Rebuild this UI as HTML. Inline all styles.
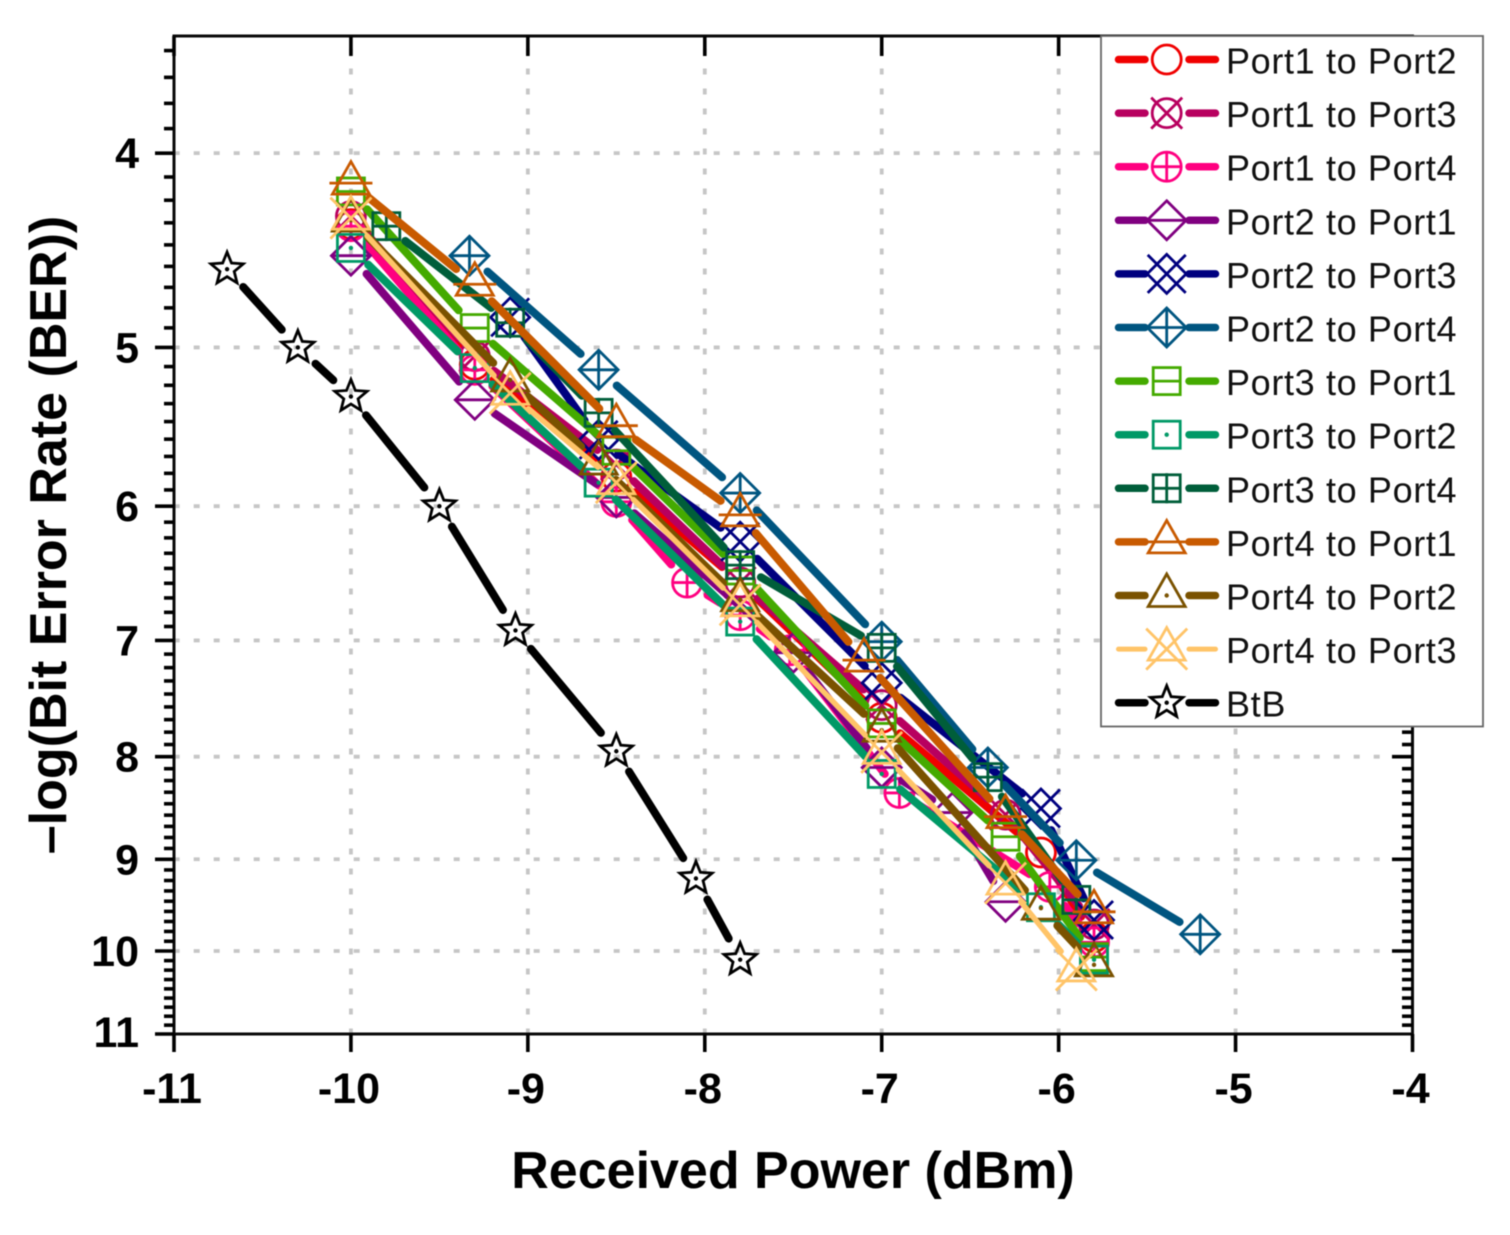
<!DOCTYPE html>
<html lang="en">
<head>
<meta charset="utf-8">
<title>Received Power vs Bit Error Rate</title>
<style>
html,body{margin:0;padding:0;background:#fff;width:1510px;height:1235px;overflow:hidden}
svg{display:block;filter:blur(0.6px)}
text{font-family:"Liberation Sans",Arial,sans-serif;fill:#000}
.tick{font-size:43px;font-weight:700}
.title{font-size:52px;font-weight:700}
.legend-text{font-size:36px;letter-spacing:.65px;fill:#111}
</style>
</head>
<body>
<svg id="chart" xmlns="http://www.w3.org/2000/svg" width="1510" height="1235" viewBox="0 0 1510 1235">
  <g id="grid"></g>
  <g id="marks"></g>
  <g id="axes"></g>
  <text class="title" x="793" y="1188" text-anchor="middle">Received Power (dBm)</text>
  <text class="title" transform="translate(66 535) rotate(-90)" text-anchor="middle">–log(Bit Error Rate (BER))</text>
  <g id="legend"></g>
</svg>
<script>
// ---- chart data ----
const xTicks = [-11, -10, -9, -8, -7, -6, -5, -4];
const yTicks = [4, 5, 6, 7, 8, 9, 10, 11];
const xDomain = [-11, -4];
const yDomain = [3.5, 11];

const port1to2X = [-10, -9.3, -8.5, -7.8, -7, -6.1, -5.8];
const port1to2Y = [4.34, 5.10, 5.80, 6.55, 7.65, 8.93, 9.84];
const port1to3X = [-10, -9.3, -8.5, -7.8, -7, -6.3, -5.8];
const port1to3Y = [4.30, 5.05, 5.72, 6.55, 7.54, 8.55, 9.70];
const port1to4X = [-10, -9.3, -8.5, -8.1, -7.8, -7.52, -6.9, -6.05, -5.8];
const port1to4Y = [4.35, 5.13, 5.97, 6.55, 6.80, 7.08, 8.34, 9.29, 9.90];
const port2to1X = [-10, -9.3, -8.5, -7.5, -7, -6.6, -6.3];
const port2to1Y = [4.50, 5.31, 5.94, 7.10, 8.10, 8.53, 9.45];
const port2to3X = [-9.1, -8.6, -7.8, -7, -6.1, -5.8];
const port2to3Y = [4.83, 5.56, 6.25, 7.35, 8.49, 9.65];
const port2to4X = [-9.33, -8.6, -7.8, -7, -6.4, -5.9, -5.2];
const port2to4Y = [4.50, 5.13, 5.91, 7.01, 8.10, 9.01, 9.81];
const port3to1X = [-10, -9.3, -8.5, -7.8, -7, -6.3, -5.8];
const port3to1Y = [4.18, 4.89, 5.63, 6.46, 7.70, 8.77, 10.07];
const port3to2X = [-10, -9.3, -8.6, -7.8, -7, -6.1, -5.8];
const port3to2Y = [4.46, 5.12, 5.84, 6.85, 8.16, 9.51, 10.10];
const port3to4X = [-9.8, -9.1, -8.6, -7.8, -7, -6.4, -5.9];
const port3to4Y = [4.35, 4.86, 5.39, 6.42, 7.06, 8.19, 9.43];
const port4to1X = [-10, -9.3, -8.5, -7.8, -7.1, -6.3, -5.8];
const port4to1Y = [4.14, 4.65, 5.47, 6.06, 7.16, 8.57, 9.56];
const port4to2X = [-10, -9.1, -8.6, -7.8, -7, -6.1, -5.8];
const port4to2Y = [4.32, 5.19, 5.71, 6.68, 7.76, 9.52, 10.16];
const port4to3X = [-10, -9.1, -8.5, -7.8, -7, -6.3, -5.9];
const port4to3Y = [4.31, 5.27, 5.84, 6.72, 7.96, 9.25, 10.22];
const btbX = [-10.7, -10.3, -10, -9.5, -9.07, -8.5, -8.05, -7.8];
const btbY = [4.57, 5.00, 5.29, 6.00, 6.92, 7.95, 9.20, 10.10];

const seriesNames = ["Port1 to Port2", "Port1 to Port3", "Port1 to Port4", "Port2 to Port1", "Port2 to Port3", "Port2 to Port4", "Port3 to Port1", "Port3 to Port2", "Port3 to Port4", "Port4 to Port1", "Port4 to Port2", "Port4 to Port3", "BtB"];
const seriesX = [port1to2X, port1to3X, port1to4X, port2to1X, port2to3X, port2to4X, port3to1X, port3to2X, port3to4X, port4to1X, port4to2X, port4to3X, btbX];
const seriesY = [port1to2Y, port1to3Y, port1to4Y, port2to1Y, port2to3Y, port2to4Y, port3to1Y, port3to2Y, port3to4Y, port4to1Y, port4to2Y, port4to3Y, btbY];
const seriesColors = ["#f00000", "#b8005f", "#ff0080", "#800080", "#00007f", "#005580", "#44aa00", "#009966", "#005e3a", "#c85a00", "#7a5200", "#ffc468", "#000000"];
const seriesSymbols = ["circle", "circle-x", "circle-plus", "diamond-bar", "diamond-x", "diamond-plus", "square-bar", "square-dot", "square-plus", "triangle-bar", "triangle-dot", "triangle-x", "star"];

// ---- axis functions ----
const plotLeft = 174, plotRight = 1412.5, plotTop = 36, plotBottom = 1034;
const pxPerUnit = (plotRight - plotLeft) / (xDomain[1] - xDomain[0]);
const pxPerDecade = 2005;
function xScale(v) { return plotLeft + (v - xDomain[0]) * pxPerUnit; }
function yScale(v) { return plotBottom - pxPerDecade * Math.log10(yDomain[1] / v); }

const NS = "http://www.w3.org/2000/svg";
function make(tag, parent, props) {
  const el = document.createElementNS(NS, tag);
  for (const k in props) el.setAttribute(k, props[k]);
  parent.appendChild(el);
  return el;
}
function slug(s) { return s.toLowerCase().replace(/\s+/g, "-"); }

// ---- gridlines ----
const gridG = document.getElementById("grid");
const gridStyle = { stroke: "#c6c6c6", "stroke-width": 3.8, "stroke-dasharray": "6 14", fill: "none" };
xTicks.slice(1, -1).forEach(function (t) {
  const l = make("line", gridG, Object.assign({ x1: xScale(t), y1: plotBottom + 0.5, x2: xScale(t), y2: plotTop }, gridStyle));
  
  
});
yTicks.slice(0, -1).forEach(function (t) {
  const l = make("line", gridG, Object.assign({ x1: plotLeft - 0.3, y1: yScale(t), x2: plotRight - 20, y2: yScale(t) }, gridStyle));
  
  
});

// ---- symbols ----
function drawSymbol(parent, kind, cx, cy, color) {
  const g = make("g", parent, { transform: "translate(" + cx + " " + cy + ")", fill: "none", stroke: color, "stroke-width": 2.8, "stroke-linejoin": "miter" });
  const parts = kind.split("-");
  const shape = parts[0], extra = parts[1];
  if (shape === "circle") {
    make("circle", g, { r: 14.5 });
    if (extra === "x") make("path", g, { d: "M-15.5 -15.5L15.5 15.5M15.5 -15.5L-15.5 15.5" });
    if (extra === "plus") make("path", g, { d: "M-14.5 0H14.5M0 -14.5V14.5" });
  } else if (shape === "diamond") {
    make("path", g, { d: "M0 -19.5L19.5 0L0 19.5L-19.5 0Z" });
    if (extra === "bar") make("path", g, { d: "M-19.5 0H19.5" });
    if (extra === "plus") make("path", g, { d: "M-19.5 0H19.5M0 -19.5V19.5" });
    if (extra === "x") make("path", g, { d: "M-19 -19L19 19M19 -19L-19 19" });
  } else if (shape === "square") {
    make("rect", g, { x: -13.5, y: -13.5, width: 27, height: 27 });
    if (extra === "bar") make("path", g, { d: "M-14 0H14" });
    if (extra === "plus") make("path", g, { d: "M-14 0H14M0 -15V15" });
    if (extra === "dot") make("circle", g, { r: 0.8, fill: color });
  } else if (shape === "triangle") {
    make("path", g, { d: "M0 -21.5L18.5 11H-18.5Z" });
    if (extra === "bar") make("path", g, { d: "M-21.5 0H21.5" });
    if (extra === "dot") make("circle", g, { r: 0.8, fill: color });
    if (extra === "x") make("path", g, { d: "M-20.5 -20.5L20.5 20.5M20.5 -20.5L-20.5 20.5" });
  } else if (shape === "star") {
    let d = "";
    for (let i = 0; i < 10; i++) {
      const r = i % 2 ? 7.5 : 17;
      const a = -Math.PI / 2 + i * Math.PI / 5;
      d += (i ? "L" : "M") + (r * Math.cos(a)).toFixed(2) + " " + (r * Math.sin(a)).toFixed(2);
    }
    make("path", g, { d: d + "Z" });
    make("circle", g, { r: 0.8, fill: color });
  }
  return g;
}

// ---- series ----
const marksG = document.getElementById("marks");
const lineGap = 24;
seriesNames.forEach(function (name, s) {
  const sg = make("g", marksG, {});
  
  
  const xs = seriesX[s], ys = seriesY[s];
  for (let i = 0; i < xs.length - 1; i++) {
    const x1 = xScale(xs[i]), y1 = yScale(ys[i]), x2 = xScale(xs[i + 1]), y2 = yScale(ys[i + 1]);
    const len = Math.hypot(x2 - x1, y2 - y1);
    if (len <= 2 * lineGap) continue;
    const ux = (x2 - x1) / len, uy = (y2 - y1) / len;
    const seg = make("line", sg, {
      x1: x1 + ux * lineGap, y1: y1 + uy * lineGap,
      x2: x2 - ux * lineGap, y2: y2 - uy * lineGap,
      stroke: seriesColors[s], "stroke-width": s === 11 ? 5.5 : 8, "stroke-linecap": "round"
    });
    
    
  }
  xs.forEach(function (xv, i) {
    const m = drawSymbol(sg, seriesSymbols[s], xScale(xv), yScale(ys[i]), seriesColors[s]);
    
    
  });
});

// ---- axes ----
const axesG = document.getElementById("axes");
const frame = make("rect", axesG, { x: plotLeft, y: plotTop, width: plotRight - plotLeft, height: plotBottom - plotTop, fill: "none", stroke: "#0a0a0a", "stroke-width": 3 });


const tickStyle = { stroke: "#000", "stroke-width": 3.6 };
xTicks.forEach(function (t) {
  const x = xScale(t);
  const tb = make("line", axesG, Object.assign({ x1: x, y1: plotBottom, x2: x, y2: 1052 }, tickStyle));
  
  
  const tt = make("line", axesG, Object.assign({ x1: x, y1: plotTop, x2: x, y2: 56 }, tickStyle));
  
  
  const lab = make("text", axesG, { class: "tick", x: x - 2, y: 1103, "text-anchor": "middle" });
  lab.textContent = String(t);
  
  
});
yTicks.forEach(function (t) {
  const y = yScale(t);
  const tl = make("line", axesG, Object.assign({ x1: 155, y1: y, x2: plotLeft, y2: y }, tickStyle));
  
  
  if (t < 11) {
    const tr = make("line", axesG, Object.assign({ x1: 1392, y1: y, x2: plotRight, y2: y }, tickStyle));
    
    
  }
  const lab = make("text", axesG, { class: "tick", x: 139, y: y + (t === 11 ? 13 : 15), "text-anchor": "end" });
  lab.textContent = String(t);
  
  
});
// minor ticks: eight between major values
const minorStarts = [3, 4, 5, 6, 7, 8, 9, 10];
minorStarts.forEach(function (b) {
  for (let i = 1; i <= 8; i++) {
    const v = b + i / 9;
    if (v <= yDomain[0]) continue;
    const y = yScale(v);
    const ml = make("line", axesG, Object.assign({ x1: 164, y1: y, x2: plotLeft, y2: y }, tickStyle));
    
    
    const mr = make("line", axesG, Object.assign({ x1: 1402, y1: y, x2: plotRight, y2: y }, tickStyle));
    
    
  }
});

// ---- legend ----
const legendG = document.getElementById("legend");
const legendBox = make("rect", legendG, { x: 1101, y: 36, width: 382, height: 690.5, fill: "#fff", stroke: "#666", "stroke-width": 1.8 });


seriesNames.forEach(function (name, s) {
  const y = 59.5 + s * 53.6;
  const eg = make("g", legendG, {});
  
  
  const lineStyle = { stroke: seriesColors[s], "stroke-width": s === 11 ? 5 : 7.5, "stroke-linecap": "round" };
  make("line", eg, Object.assign({ x1: 1118.5, y1: y, x2: 1145, y2: y }, lineStyle));
  make("line", eg, Object.assign({ x1: 1189, y1: y, x2: 1215.5, y2: y }, lineStyle));
  drawSymbol(eg, seriesSymbols[s], 1166.7, y, seriesColors[s]);
  const t = make("text", eg, { class: "legend-text", x: 1226, y: y + 14 });
  t.textContent = name;
  
  
});
</script>
</body>
</html>
